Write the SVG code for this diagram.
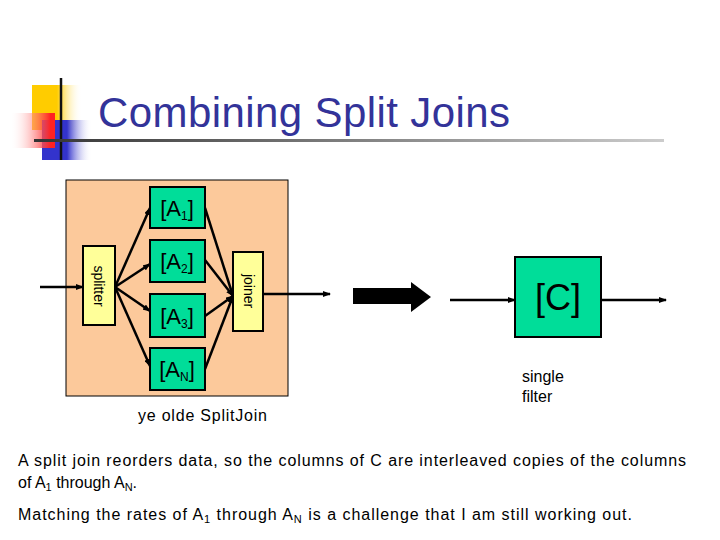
<svg xmlns="http://www.w3.org/2000/svg" width="720" height="540" viewBox="0 0 720 540">
<defs>
<marker id="ah" markerWidth="8" markerHeight="6" refX="7" refY="3" orient="auto" markerUnits="userSpaceOnUse"><path d="M0,0 L8,3 L0,6 z" fill="#000"/></marker>
<linearGradient id="gy" x1="0" x2="1"><stop offset="0.5" stop-color="#ffcc00"/><stop offset="1" stop-color="#fff" stop-opacity="0"/></linearGradient>
<linearGradient id="gb" x1="0" x2="1"><stop offset="0.5" stop-color="#3333cc"/><stop offset="1" stop-color="#fff" stop-opacity="0"/></linearGradient>
<linearGradient id="gr" x1="1" x2="0"><stop offset="0.1" stop-color="#ff2222"/><stop offset="1" stop-color="#fff" stop-opacity="0"/></linearGradient>
<linearGradient id="gl" x1="0" x2="1"><stop offset="0" stop-color="#333"/><stop offset="1" stop-color="#ccc"/></linearGradient>
</defs>
<style>
.t{font-family:"Liberation Sans",Arial,sans-serif}
.f{fill:#00dd99;stroke:#000;stroke-width:2}
.ft{font-family:"Liberation Sans",Arial,sans-serif}
.c{stroke:#000;stroke-width:2.5;fill:none}
</style>
<rect width="720" height="540" fill="#fff"/>
<g id="logo">
<rect x="32" y="85" width="50" height="45" fill="url(#gy)"/>
<rect x="42" y="120" width="50" height="40" fill="url(#gb)"/>
<rect x="10" y="113" width="45" height="35" fill="url(#gr)"/>
<line x1="61" y1="78" x2="61" y2="160" stroke="#111" stroke-width="2.5"/>
<rect x="34" y="139" width="630" height="3" fill="url(#gl)"/>
</g>
<text class="t" x="98" y="127" font-size="42" fill="#333399" textLength="412">Combining Split Joins</text>
<rect id="sj" x="66" y="180" width="222" height="216" fill="#fcc99b" stroke="#000" stroke-width="1"/>
<g id="connectors">
<line class="c" x1="40" y1="287" x2="83" y2="287" stroke-width="2" marker-end="url(#ah)"/>
<line class="c" x1="115" y1="287" x2="150" y2="208" marker-end="url(#ah)"/>
<line class="c" x1="115" y1="287" x2="150" y2="264" marker-end="url(#ah)"/>
<line class="c" x1="115" y1="287" x2="150" y2="311" marker-end="url(#ah)"/>
<line class="c" x1="115" y1="287" x2="150" y2="366" marker-end="url(#ah)"/>
<line class="c" x1="205" y1="208" x2="233" y2="296" marker-end="url(#ah)"/>
<line class="c" x1="205" y1="260" x2="233" y2="296" marker-end="url(#ah)"/>
<line class="c" x1="205" y1="316" x2="233" y2="296" marker-end="url(#ah)"/>
<line class="c" x1="205" y1="369" x2="233" y2="296" marker-end="url(#ah)"/>
<line class="c" x1="263" y1="294" x2="330" y2="294" stroke-width="2" marker-end="url(#ah)"/>
<path d="M353,288 H411 V282 L431,297 L411,312 V304 H353 z" fill="#000"/>
<line class="c" x1="450" y1="300" x2="515" y2="300" stroke-width="2" marker-end="url(#ah)"/>
<line class="c" x1="601" y1="300" x2="666" y2="300" stroke-width="2" marker-end="url(#ah)"/>
</g>
<g id="splitter"><rect x="83" y="246" width="32" height="79" fill="#ffff99" stroke="#000" stroke-width="2"/>
<text class="ft" transform="translate(94,286) rotate(90)" text-anchor="middle" font-size="14">splitter</text></g>
<g id="joiner"><rect x="233" y="252" width="30" height="79" fill="#ffff99" stroke="#000" stroke-width="2"/>
<text class="ft" transform="translate(244,291) rotate(90)" text-anchor="middle" font-size="14">joiner</text></g>
<g id="A1"><rect class="f" x="150" y="187" width="55" height="41"/><text class="ft" font-size="22" x="177" y="216" text-anchor="middle">[A<tspan font-size="12" dy="4">1</tspan><tspan dy="-4">]</tspan></text></g>
<g id="A2"><rect class="f" x="150" y="240" width="55" height="42"/><text class="ft" font-size="22" x="177" y="269" text-anchor="middle">[A<tspan font-size="12" dy="4">2</tspan><tspan dy="-4">]</tspan></text></g>
<g id="A3"><rect class="f" x="150" y="294" width="55" height="43"/><text class="ft" font-size="22" x="177" y="324" text-anchor="middle">[A<tspan font-size="12" dy="4">3</tspan><tspan dy="-4">]</tspan></text></g>
<g id="AN"><rect class="f" x="150" y="348" width="55" height="42"/><text class="ft" font-size="22" x="177" y="377" text-anchor="middle">[A<tspan font-size="12" dy="4">N</tspan><tspan dy="-4">]</tspan></text></g>
<g id="C"><rect class="f" x="515" y="257" width="86" height="80"/><text class="ft" x="558" y="310" text-anchor="middle" font-size="36">[C]</text></g>
<g class="ft" font-size="16">
<text x="138" y="421" textLength="129">ye olde SplitJoin</text>
<text x="522" y="382">single</text>
<text x="522" y="402">filter</text>
<text x="18" y="466" textLength="668">A split join reorders data, so the columns of C are interleaved copies of the columns</text>
<text x="18" y="488">of A<tspan font-size="11" dy="3">1</tspan><tspan dy="-3"> through A</tspan><tspan font-size="11" dy="3">N</tspan><tspan dy="-3">.</tspan></text>
<text x="18" y="520" textLength="614">Matching the rates of A<tspan font-size="11" dy="3">1</tspan><tspan dy="-3"> through A</tspan><tspan font-size="11" dy="3">N</tspan><tspan dy="-3"> is a challenge that I am still working out.</tspan></text>
</g>
</svg>
